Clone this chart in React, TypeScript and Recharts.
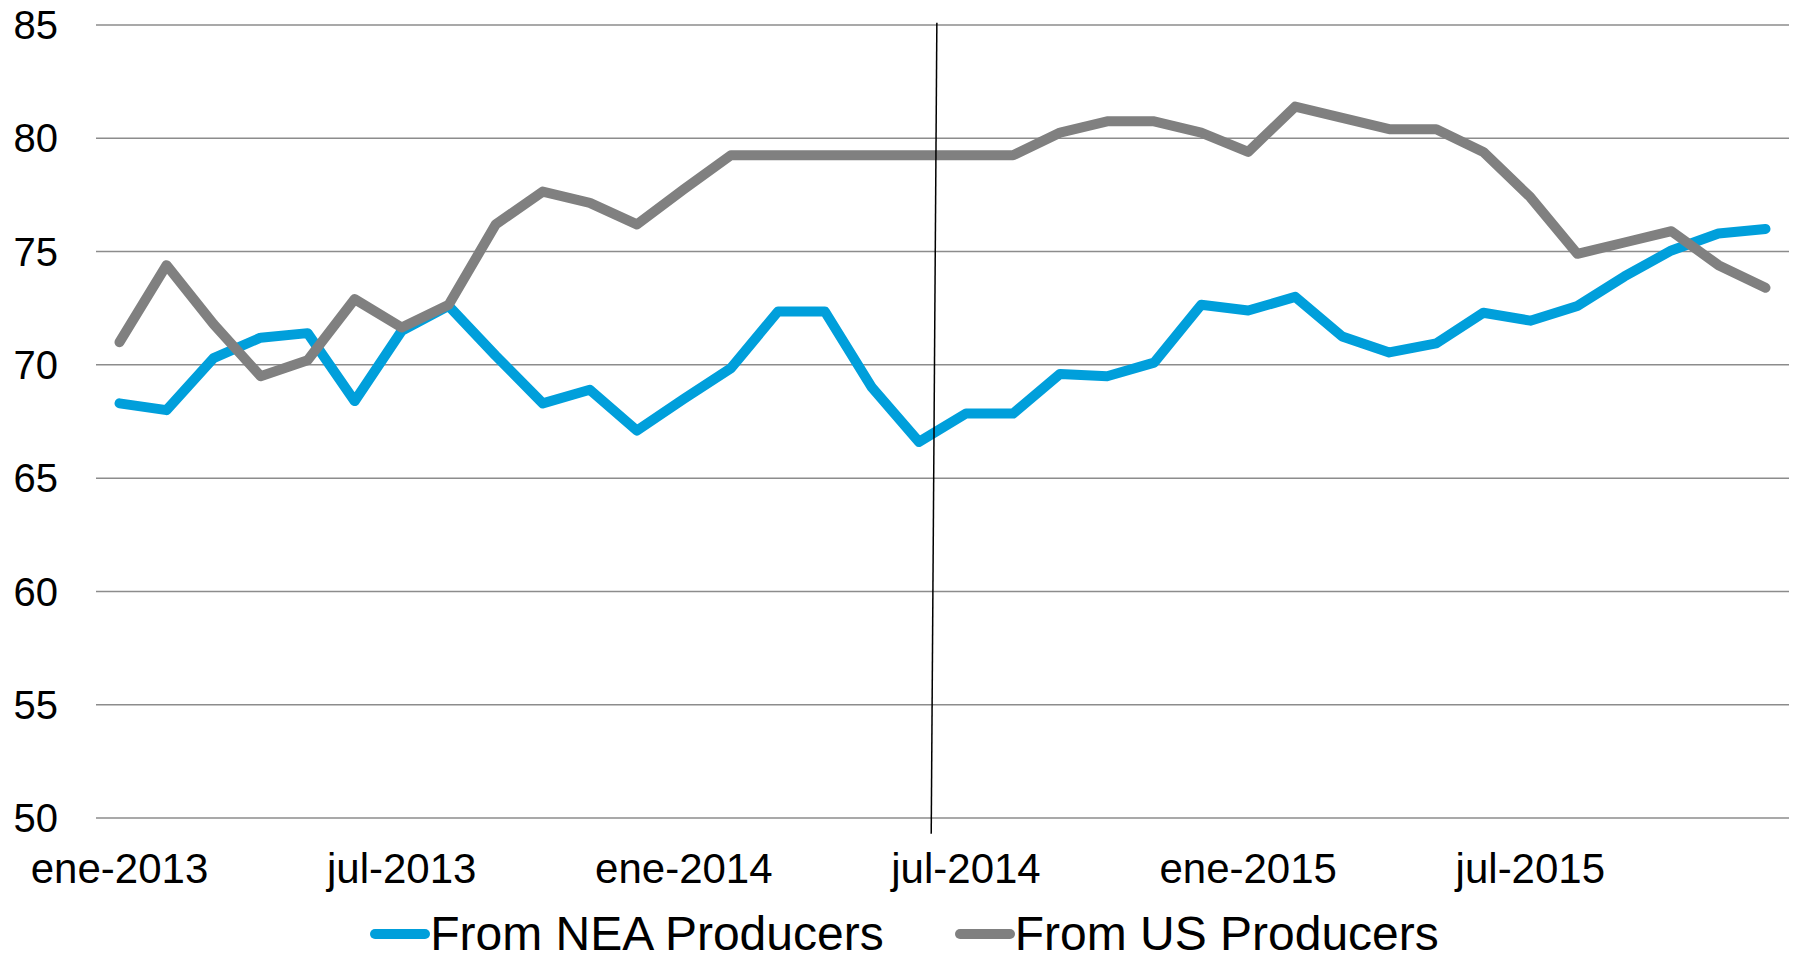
import React from "react";
import {
  LineChart,
  Line,
  XAxis,
  YAxis,
  CartesianGrid,
  Legend,
  ReferenceLine,
} from "recharts";

const months = [
  "ene-2013", "feb-2013", "mar-2013", "abr-2013", "may-2013", "jun-2013",
  "jul-2013", "ago-2013", "sep-2013", "oct-2013", "nov-2013", "dic-2013",
  "ene-2014", "feb-2014", "mar-2014", "abr-2014", "may-2014", "jun-2014",
  "jul-2014", "ago-2014", "sep-2014", "oct-2014", "nov-2014", "dic-2014",
  "ene-2015", "feb-2015", "mar-2015", "abr-2015", "may-2015", "jun-2015",
  "jul-2015", "ago-2015", "sep-2015", "oct-2015", "nov-2015", "dic-2015",
];

const neaProducers = [
  68.3, 68.0, 70.3, 71.2, 71.4, 68.4, 71.5, 72.6, 70.4, 68.3, 68.9, 67.1,
  68.5, 69.85, 72.35, 72.35, 69.0, 66.6, 67.85, 67.85, 69.6, 69.5, 70.1, 72.65,
  72.4, 73.0, 71.25, 70.55, 70.95, 72.3, 71.95, 72.6, 73.9, 75.05, 75.8, 76.0,
];

const usProducers = [
  71.0, 74.4, 71.8, 69.5, 70.2, 72.9, 71.65, 72.65, 76.2, 77.65, 77.15, 76.2,
  77.75, 79.25, 79.25, 79.25, 79.25, 79.25, 79.25, 79.25, 80.25, 80.75, 80.75, 80.25,
  79.4, 81.4, 80.9, 80.4, 80.4, 79.4, 77.4, 74.9, 75.4, 75.9, 74.4, 73.4,
];

const xTicks = [0, 6, 12, 18, 24, 30];
const yTicks = [50, 55, 60, 65, 70, 75, 80, 85];

// hand-drawn divider in the original, in data units (month index, value)
const dividerLine = [
  { x: 17.38, y: 85.1 },
  { x: 17.26, y: 49.3 },
];

const series = [
  { key: "nea", name: "From NEA Producers", color: "#009FDB" },
  { key: "us", name: "From US Producers", color: "#808080" },
];

const data = months.map((m, i) => ({
  i,
  month: m,
  nea: neaProducers[i],
  us: usProducers[i],
}));

const font = "'Liberation Sans', Arial, sans-serif";

function LegendBox() {
  return (
    <div
      style={{
        display: "flex",
        justifyContent: "center",
        gap: 71,
        height: 40,
        alignItems: "center",
        fontFamily: font,
        fontSize: 48,
        color: "#000",
        paddingLeft: 20,
      }}
    >
      {series.map((s) => (
        <div key={s.key} style={{ display: "flex", alignItems: "center", height: 40 }}>
          <span
            style={{
              display: "inline-block",
              width: 60,
              height: 10,
              borderRadius: 5,
              background: s.color,
            }}
          />
          <span style={{ lineHeight: "40px", display: "inline-block", height: 40 }}>{s.name}</span>
        </div>
      ))}
    </div>
  );
}

export default function App() {
  return (
    <div style={{ position: "absolute", left: 0, top: 0, background: "#fff" }}>
      <LineChart
        width={1798}
        height={958}
        data={data}
        margin={{ top: 25, right: 9, left: 0, bottom: 4 }}
      >
        <CartesianGrid vertical={false} stroke="#8c8c8c" strokeWidth={1.5} />
        <XAxis
          dataKey="i"
          type="number"
          domain={[-0.5, 35.5]}
          ticks={xTicks}
          tickFormatter={(v) => months[v]}
          axisLine={false}
          tickLine={false}
          tickSize={0}
          tickMargin={35}
          height={96}
          interval={0}
          tick={{ fill: "#000", fontSize: 42, fontFamily: font }}
        />
        <YAxis
          domain={[50, 85]}
          ticks={yTicks}
          axisLine={false}
          tickLine={false}
          tickSize={0}
          tickMargin={38}
          width={96}
          interval={0}
          tick={{ fill: "#000", fontSize: 40, fontFamily: font }}
        />
        <Legend verticalAlign="bottom" height={40} content={() => <LegendBox />} />
        {series.map((s) => (
          <Line
            key={s.key}
            dataKey={s.key}
            name={s.name}
            stroke={s.color}
            strokeWidth={10}
            strokeLinecap="round"
            strokeLinejoin="round"
            dot={false}
            activeDot={false}
            type="linear"
            isAnimationActive={false}
          />
        ))}
        <ReferenceLine
          segment={dividerLine}
          stroke="#000"
          strokeWidth={1.5}
          ifOverflow="visible"
        />
      </LineChart>
    </div>
  );
}
